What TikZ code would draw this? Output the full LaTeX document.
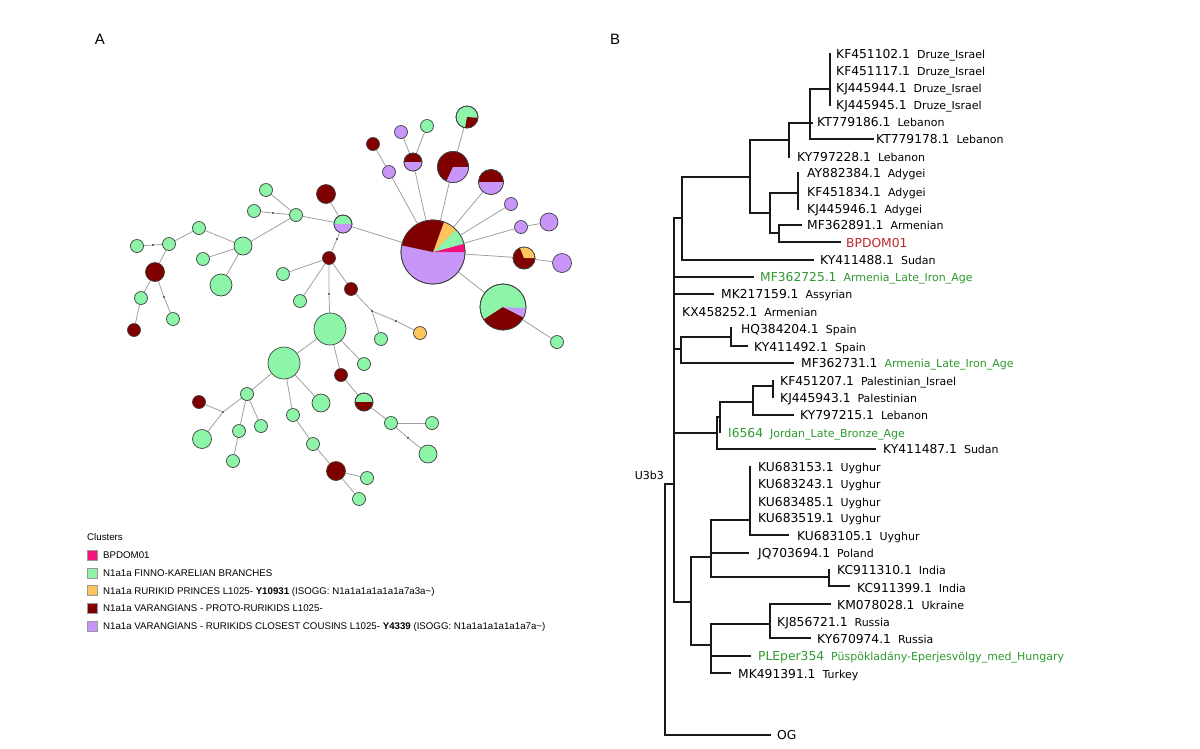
\documentclass[tikz,border=0pt]{standalone}
\usepackage{fontspec}
\setmainfont{Liberation Sans}
\newfontfamily\dv{DejaVu Sans}
\pgfdeclarelayer{bg}
\pgfsetlayers{bg,main}
\definecolor{cgreen}{HTML}{8CF5A8}
\definecolor{cred}{HTML}{800000}
\definecolor{cpurple}{HTML}{C896F8}
\definecolor{corange}{HTML}{FFC45C}
\definecolor{cpink}{HTML}{F5127D}
\definecolor{lblgreen}{HTML}{2E9A2E}
\definecolor{lblred}{HTML}{C02828}
\definecolor{edgegray}{HTML}{A0A0A0}
\newcommand{\accf}{\dv\fontsize{12.3}{14}\selectfont}
\newcommand{\popf}{\dv\fontsize{11}{13}\selectfont}
\newcommand{\legf}{\fontsize{9.7}{11}\selectfont}
\tikzset{
  hap/.style={circle, draw=black!75, line width=0.7pt, inner sep=0pt},
  dotnode/.style={circle, fill=black!80, inner sep=0pt, minimum size=2.4pt},
  edge/.style={draw=edgegray, line width=0.8pt},
  tree/.style={draw=black!90, line width=1.2pt, line cap=rect},
  leaflbl/.style={anchor=base west, inner sep=0pt},
  swatch/.style={rectangle, draw=black!40, line width=0.5pt, inner sep=0pt, minimum size=10pt},
  legtext/.style={anchor=base west, inner sep=0pt, font=\legf},
}
% name, x, y, diameter, colour
\newcommand{\hnode}[5]{\node[hap, fill=#5, minimum size=#4pt] (#1) at (#2,#3) {};}
\newcommand{\dnode}[3]{\node[dotnode] (#1) at (#2,#3) {};}
% node, radius, start, end, colour
\newcommand{\pieslice}[5]{\fill[#5] (#1.center) -- ++(#3:#2pt) arc[start angle=#3, end angle=#4, radius=#2pt] -- cycle;}
\newcommand{\pieline}[2]{\draw[black!75, line width=0.7pt] (#1.center) circle[radius=#2pt];}
% name, x, y, accession, population, acc colour, pop colour
\newcommand{\lbl}[7]{\node[leaflbl] (#1) at (#2,#3+4.5) {{\accf\color{#6}#4}\hspace{7pt}{\popf\color{#7}#5}};}
\begin{document}
\begin{tikzpicture}[x=1pt,y=-1pt]
\useasboundingbox (0,0) rectangle (1200,748);
\begin{pgfonlayer}{bg}
\fill[white] (0,0) rectangle (1200,748);
\end{pgfonlayer}

% ---------- panel letters
\node[font=\fontsize{15}{17}\selectfont] (pa) at (100,39) {A};
\node[font=\fontsize{15}{17}\selectfont] (pb) at (615,39) {B};

% ---------- network nodes
\hnode{n1}{401}{132}{13}{cpurple}
\hnode{n2}{373}{144}{13}{cred}
\hnode{n3}{413}{162}{18}{cred}
\hnode{n4}{389}{172}{13}{cpurple}
\hnode{n5}{427}{126}{13}{cgreen}
\hnode{n6}{467}{117}{22}{cgreen}
\hnode{n7}{453}{167}{31}{cred}
\hnode{n8}{491}{182}{25}{cred}
\hnode{n9}{511}{204}{13}{cpurple}
\hnode{n10}{521}{227}{13}{cpurple}
\hnode{n11}{549}{222}{18}{cpurple}
\hnode{n12}{524}{258}{22}{cred}
\hnode{n13}{562}{263}{19}{cpurple}
\hnode{n14}{433}{252}{64}{cpurple}
\hnode{n15}{503}{307}{46}{cgreen}
\hnode{n16}{557}{342}{13}{cgreen}
\hnode{n17}{343}{224}{18}{cgreen}
\hnode{n18}{326}{194}{19}{cred}
\hnode{n19}{296}{215}{13}{cgreen}
\hnode{n20}{266}{190}{13}{cgreen}
\hnode{n21}{254}{211}{13}{cgreen}
\hnode{n22}{243}{246}{18}{cgreen}
\hnode{n23}{199}{228}{13}{cgreen}
\hnode{n24}{169}{244}{13}{cgreen}
\hnode{n25}{137}{246}{13}{cgreen}
\hnode{n26}{155}{272}{19}{cred}
\hnode{n27}{141}{298}{13}{cgreen}
\hnode{n28}{134}{330}{13}{cred}
\dnode{n29}{164}{297}
\hnode{n30}{173}{319}{13}{cgreen}
\hnode{n31}{203}{259}{13}{cgreen}
\hnode{n32}{221}{285}{22}{cgreen}
\hnode{n33}{329}{258}{13}{cred}
\hnode{n34}{283}{274}{13}{cgreen}
\hnode{n35}{300}{301}{13}{cgreen}
\hnode{n36}{330}{329}{32}{cgreen}
\hnode{n37}{351}{289}{13}{cred}
\dnode{n38}{372}{311}
\hnode{n39}{381}{339}{13}{cgreen}
\dnode{n40}{396}{321}
\hnode{n41}{420}{333}{13}{corange}
\hnode{n42}{284}{363}{32}{cgreen}
\hnode{n43}{364}{364}{13}{cgreen}
\hnode{n44}{341}{375}{13}{cred}
\hnode{n45}{364}{402}{18}{cgreen}
\hnode{n46}{391}{423}{13}{cgreen}
\hnode{n47}{432}{423}{13}{cgreen}
\dnode{n48}{408}{438}
\hnode{n49}{428}{454}{18}{cgreen}
\hnode{n50}{247}{394}{13}{cgreen}
\dnode{n51}{223}{412}
\hnode{n52}{199}{402}{13}{cred}
\hnode{n53}{202}{439}{19}{cgreen}
\hnode{n54}{261}{426}{13}{cgreen}
\hnode{n55}{239}{431}{13}{cgreen}
\hnode{n56}{233}{461}{13}{cgreen}
\hnode{n57}{321}{403}{18}{cgreen}
\hnode{n58}{293}{415}{13}{cgreen}
\hnode{n59}{313}{444}{13}{cgreen}
\hnode{n60}{336}{471}{19}{cred}
\hnode{n61}{367}{478}{13}{cgreen}
\hnode{n62}{359}{499}{13}{cgreen}
\dnode{d5}{329}{294}
\dnode{d6}{153}{245}
\dnode{d7}{273}{213}
\dnode{d8}{337}{239}

% ---------- pie slices
\pieslice{n3}{9}{180}{360}{cpurple}\pieline{n3}{9}
\pieslice{n6}{11}{-100}{-5}{cred}\pieline{n6}{11}
\pieslice{n7}{15.5}{-115}{0}{cpurple}\pieline{n7}{15.5}
\pieslice{n8}{12.5}{180}{360}{cpurple}\pieline{n8}{12.5}
\pieslice{n12}{11}{0}{112}{corange}\pieline{n12}{11}
\pieslice{n14}{32}{0}{15}{cpink}
\pieslice{n14}{32}{15}{44}{cgreen}
\pieslice{n14}{32}{44}{70}{corange}
\pieslice{n14}{32}{70}{168}{cred}\pieline{n14}{32}
\pieslice{n15}{23}{213}{333}{cred}
\pieslice{n15}{23}{333}{357}{cpurple}\pieline{n15}{23}
\pieslice{n17}{9}{180}{360}{cpurple}\pieline{n17}{9}
\pieslice{n45}{9}{180}{360}{cred}\pieline{n45}{9}

% ---------- network edges
\begin{pgfonlayer}{bg}
\draw[edge] (n1) -- (n3);
\draw[edge] (n5) -- (n3);
\draw[edge] (n3) -- (n14);
\draw[edge] (n2) -- (n4);
\draw[edge] (n4) -- (n14);
\draw[edge] (n6) -- (n7);
\draw[edge] (n7) -- (n14);
\draw[edge] (n8) -- (n14);
\draw[edge] (n9) -- (n14);
\draw[edge] (n10) -- (n14);
\draw[edge] (n10) -- (n11);
\draw[edge] (n12) -- (n14);
\draw[edge] (n12) -- (n13);
\draw[edge] (n15) -- (n14);
\draw[edge] (n15) -- (n16);
\draw[edge] (n17) -- (n14);
\draw[edge] (n18) -- (n17);
\draw[edge] (n19) -- (n17);
\draw[edge] (n20) -- (n19);
\draw[edge] (n21) -- (d7) -- (n19);
\draw[edge] (n19) -- (n22);
\draw[edge] (n22) -- (n23);
\draw[edge] (n23) -- (n24);
\draw[edge] (n24) -- (d6) -- (n25);
\draw[edge] (n24) -- (n26);
\draw[edge] (n26) -- (n27);
\draw[edge] (n27) -- (n28);
\draw[edge] (n26) -- (n29) -- (n30);
\draw[edge] (n22) -- (n31);
\draw[edge] (n22) -- (n32);
\draw[edge] (n17) -- (d8) -- (n33);
\draw[edge] (n33) -- (n34);
\draw[edge] (n33) -- (n35);
\draw[edge] (n33) -- (d5) -- (n36);
\draw[edge] (n33) -- (n37);
\draw[edge] (n37) -- (n38) -- (n39);
\draw[edge] (n38) -- (n40) -- (n41);
\draw[edge] (n36) -- (n42);
\draw[edge] (n36) -- (n43);
\draw[edge] (n36) -- (n44);
\draw[edge] (n44) -- (n45);
\draw[edge] (n45) -- (n46);
\draw[edge] (n46) -- (n47);
\draw[edge] (n46) -- (n48) -- (n49);
\draw[edge] (n42) -- (n50);
\draw[edge] (n50) -- (n54);
\draw[edge] (n50) -- (n55);
\draw[edge] (n55) -- (n56);
\draw[edge] (n50) -- (n51);
\draw[edge] (n51) -- (n52);
\draw[edge] (n51) -- (n53);
\draw[edge] (n42) -- (n57);
\draw[edge] (n42) -- (n58);
\draw[edge] (n58) -- (n59);
\draw[edge] (n59) -- (n60);
\draw[edge] (n60) -- (n61);
\draw[edge] (n60) -- (n62);
\end{pgfonlayer}

% ---------- legend
\node[legtext] (lgt) at (87,540.5) {Clusters};
\node[swatch, fill=cpink] (sw1) at (92,555) {};
\node[swatch, fill=cgreen] (sw2) at (92,572.75) {};
\node[swatch, fill=corange] (sw3) at (92,590.5) {};
\node[swatch, fill=cred] (sw4) at (92,608.25) {};
\node[swatch, fill=cpurple] (sw5) at (92,626) {};
\node[legtext] (lg1) at (103,558.5) {BPDOM01};
\node[legtext] (lg2) at (103,576.25) {N1a1a FINNO-KARELIAN BRANCHES};
\node[legtext] (lg3) at (103,594) {N1a1a RURIKID PRINCES L1025- \textbf{Y10931} (ISOGG: N1a1a1a1a1a1a7a3a\textasciitilde)};
\node[legtext] (lg4) at (103,611.75) {N1a1a VARANGIANS - PROTO-RURIKIDS L1025-};
\node[legtext] (lg5) at (103,629.5) {N1a1a VARANGIANS - RURIKIDS CLOSEST COUSINS L1025- \textbf{Y4339} (ISOGG: N1a1a1a1a1a1a7a\textasciitilde)};

% ---------- tree branches
\draw[tree]
 (830,54) -- (830,105)
 (810,89) -- (830,89)
 (810,89) -- (810,139)
 (810,139) -- (873,139)
 (789,123) -- (812,123)
 (789,123) -- (789,157)
 (750,140) -- (789,140)
 (750,140) -- (750,213)
 (750,213) -- (770,213)
 (770,193) -- (770,233)
 (770,193) -- (798,193)
 (798,173) -- (798,209)
 (770,233) -- (779,233)
 (779,225) -- (779,242)
 (779,225) -- (801,225)
 (779,242) -- (840,242)
 (682,177) -- (750,177)
 (682,177) -- (682,260)
 (682,260) -- (813,260)
 (674,218) -- (682,218)
 (674,218) -- (674,602)
 (674,277) -- (753,277)
 (674,294) -- (713,294)
 (674,349) -- (681,349)
 (681,337) -- (681,363)
 (681,337) -- (731,337)
 (731,328) -- (731,346)
 (731,346) -- (747,346)
 (681,363) -- (793,363)
 (674,433) -- (717,433)
 (717,417) -- (717,449)
 (717,449) -- (875,449)
 (717,417) -- (720,417)
 (720,402) -- (720,432)
 (720,402) -- (753,402)
 (753,386) -- (753,415)
 (753,415) -- (793,415)
 (753,386) -- (773,386)
 (773,381) -- (773,397)
 (674,602) -- (691,602)
 (691,557) -- (691,645)
 (691,557) -- (711,557)
 (711,520) -- (711,577)
 (711,520) -- (750,520)
 (750,467) -- (750,535)
 (750,535) -- (788,535)
 (711,553) -- (748,553)
 (711,577) -- (829,577)
 (829,570) -- (829,586)
 (829,586) -- (849,586)
 (691,645) -- (711,645)
 (711,624) -- (711,673)
 (711,624) -- (770,624)
 (770,604) -- (770,638)
 (770,604) -- (830,604)
 (770,638) -- (810,638)
 (711,656) -- (750,656)
 (711,673) -- (730,673)
 (665,484) -- (674,484)
 (665,484) -- (665,735)
 (665,735) -- (770,735);

% ---------- tree labels
\lbl{l1}{836}{54}{KF451102.1}{Druze\_Israel}{black}{black}
\lbl{l2}{836}{71}{KF451117.1}{Druze\_Israel}{black}{black}
\lbl{l3}{836}{88}{KJ445944.1}{Druze\_Israel}{black}{black}
\lbl{l4}{836}{105}{KJ445945.1}{Druze\_Israel}{black}{black}
\lbl{l5}{817}{122}{KT779186.1}{Lebanon}{black}{black}
\lbl{l6}{876}{139}{KT779178.1}{Lebanon}{black}{black}
\lbl{l7}{797}{157}{KY797228.1}{Lebanon}{black}{black}
\lbl{l8}{807}{173}{AY882384.1}{Adygei}{black}{black}
\lbl{l9}{807}{192}{KF451834.1}{Adygei}{black}{black}
\lbl{l10}{807}{209}{KJ445946.1}{Adygei}{black}{black}
\lbl{l11}{807}{225}{MF362891.1}{Armenian}{black}{black}
\node[leaflbl] (l12) at (846,247.5) {\accf\color{lblred}BPDOM01};
\lbl{l13}{820}{260}{KY411488.1}{Sudan}{black}{black}
\lbl{l14}{760}{277}{MF362725.1}{Armenia\_Late\_Iron\_Age}{lblgreen}{lblgreen}
\lbl{l15}{721}{294}{MK217159.1}{Assyrian}{black}{black}
\lbl{l16}{682}{312}{KX458252.1}{Armenian}{black}{black}
\lbl{l17}{741}{329}{HQ384204.1}{Spain}{black}{black}
\lbl{l18}{754}{347}{KY411492.1}{Spain}{black}{black}
\lbl{l19}{801}{363}{MF362731.1}{Armenia\_Late\_Iron\_Age}{black}{lblgreen}
\lbl{l20}{780}{381}{KF451207.1}{Palestinian\_Israel}{black}{black}
\lbl{l21}{780}{398}{KJ445943.1}{Palestinian}{black}{black}
\lbl{l22}{800}{415}{KY797215.1}{Lebanon}{black}{black}
\lbl{l23}{728}{433}{I6564}{Jordan\_Late\_Bronze\_Age}{lblgreen}{lblgreen}
\lbl{l24}{883}{449}{KY411487.1}{Sudan}{black}{black}
\lbl{l25}{758}{467}{KU683153.1}{Uyghur}{black}{black}
\lbl{l26}{758}{484}{KU683243.1}{Uyghur}{black}{black}
\lbl{l27}{758}{502}{KU683485.1}{Uyghur}{black}{black}
\lbl{l28}{758}{518}{KU683519.1}{Uyghur}{black}{black}
\lbl{l29}{797}{536}{KU683105.1}{Uyghur}{black}{black}
\lbl{l30}{758}{553}{JQ703694.1}{Poland}{black}{black}
\lbl{l31}{837}{570}{KC911310.1}{India}{black}{black}
\lbl{l32}{857}{588}{KC911399.1}{India}{black}{black}
\lbl{l33}{837}{605}{KM078028.1}{Ukraine}{black}{black}
\lbl{l34}{777}{622}{KJ856721.1}{Russia}{black}{black}
\lbl{l35}{817}{639}{KY670974.1}{Russia}{black}{black}
\lbl{l36}{758}{656}{PLEper354}{Püspökladány-Eperjesvölgy\_med\_Hungary}{lblgreen}{lblgreen}
\lbl{l37}{738}{674}{MK491391.1}{Turkey}{black}{black}
\node[leaflbl] (og) at (777,739.5) {\accf OG};
\node[anchor=base east, inner sep=0pt] (u3b3) at (664,479) {\popf U3b3};
\end{tikzpicture}
\end{document}
